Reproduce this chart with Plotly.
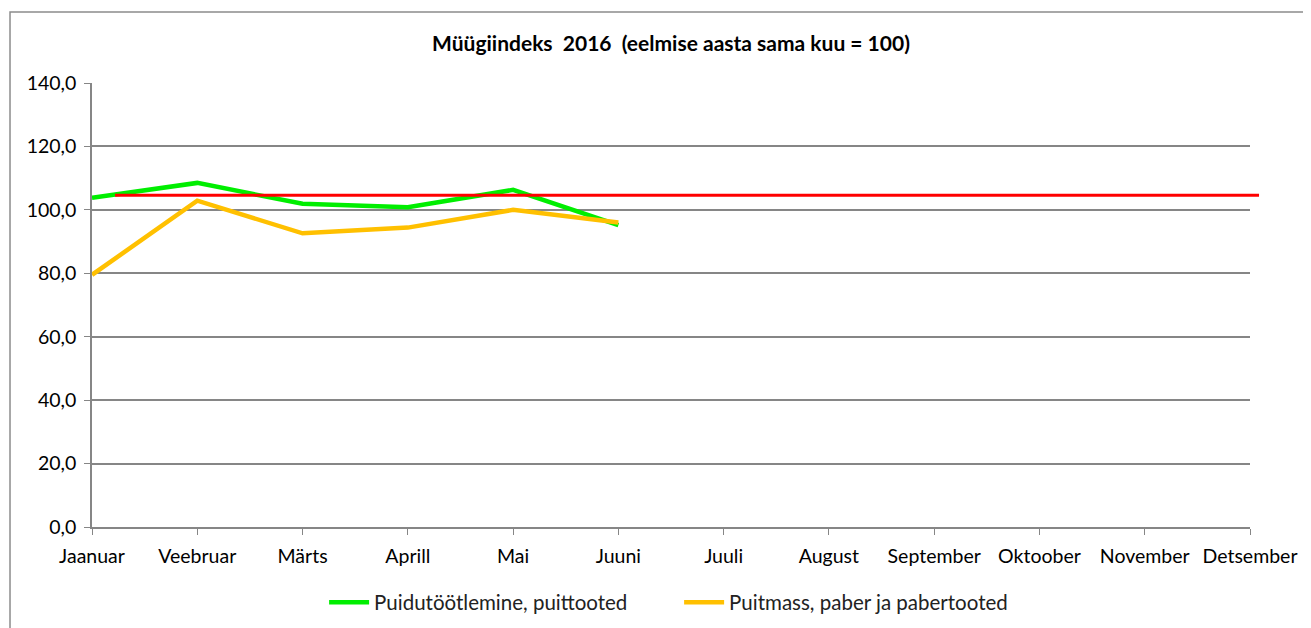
import plotly.graph_objects as go

months = ["Jaanuar", "Veebruar", "Märts", "Aprill", "Mai", "Juuni", "Juuli",
          "August", "September", "Oktoober", "November", "Detsember"]
green_name = "Puidutöötlemine, puittooted"
green_vals = [103.8, 108.5, 101.9, 100.8, 106.3, 95.2]
orange_name = "Puitmass, paber ja pabertooted"
orange_vals = [79.5, 102.9, 92.6, 94.4, 100.0, 96.0]
ref_level = 104.6
y_ticks = [0, 20, 40, 60, 80, 100, 120, 140]
y_ticktext = ["0,0", "20,0", "40,0", "60,0", "80,0", "100,0", "120,0", "140,0"]

xi = list(range(len(months)))
FONT = "Lato, Open Sans, sans-serif"

fig = go.Figure()
fig.add_trace(go.Scatter(x=xi[:len(green_vals)], y=green_vals, name=green_name,
                         mode="lines", line=dict(color="#00EE00", width=4.5)))
fig.add_trace(go.Scatter(x=xi[:len(orange_vals)], y=orange_vals, name=orange_name,
                         mode="lines", line=dict(color="#FFC000", width=4.5)))

# red reference line (drawn shape, extends past plot edge)
fig.add_shape(type="line", xref="paper", yref="y", x0=0.0199, x1=1.0078,
              y0=ref_level, y1=ref_level, line=dict(color="#FF0000", width=3), layer="above")
# outer chart border
fig.add_shape(type="rect", xref="paper", yref="paper", x0=-0.0708, x1=1.2,
              y0=-0.4, y1=1.1599, line=dict(color="#8C8C8C", width=1.5), layer="below")

fig.update_layout(
    width=1311, height=628,
    margin=dict(l=84, r=69, t=75, b=109),
    paper_bgcolor="white", plot_bgcolor="white",
    title=dict(text="<b>Müügiindeks  2016  (eelmise aasta sama kuu = 100)</b>",
               x=0.5, xref="paper", y=1 - 36 / 628, yref="container", xanchor="center",
               yanchor="middle",
               font=dict(family=FONT, size=21, color="#000000")),
    font=dict(family=FONT, size=19.5, color="#000000"),
    showlegend=True,
    legend=dict(orientation="h", x=0.507, xanchor="center", y=-0.125, yanchor="top",
                font=dict(family=FONT, size=20.5, color="#222222"), itemwidth=40,
                entrywidth=300, tracegroupgap=0),
    xaxis=dict(range=[0, 11], tickmode="array", tickvals=xi, ticktext=months,
               showgrid=False, zeroline=False, showline=True, linecolor="#868686",
               linewidth=1.5, ticks="outside", ticklen=6, tickcolor="#868686",
               ticklabelstandoff=5,
               tickfont=dict(size=19.5, family=FONT, color="#000000")),
    yaxis=dict(range=[0, 140], tickmode="array", tickvals=y_ticks, ticktext=y_ticktext,
               showgrid=True, gridcolor="#868686", gridwidth=1.5, zeroline=False,
               showline=True, linecolor="#868686", linewidth=1.5, ticks="outside",
               ticklen=6, tickcolor="#868686", ticklabelstandoff=4,
               tickfont=dict(size=19.5, family=FONT, color="#000000")),
)

fig.write_html("out.html")
